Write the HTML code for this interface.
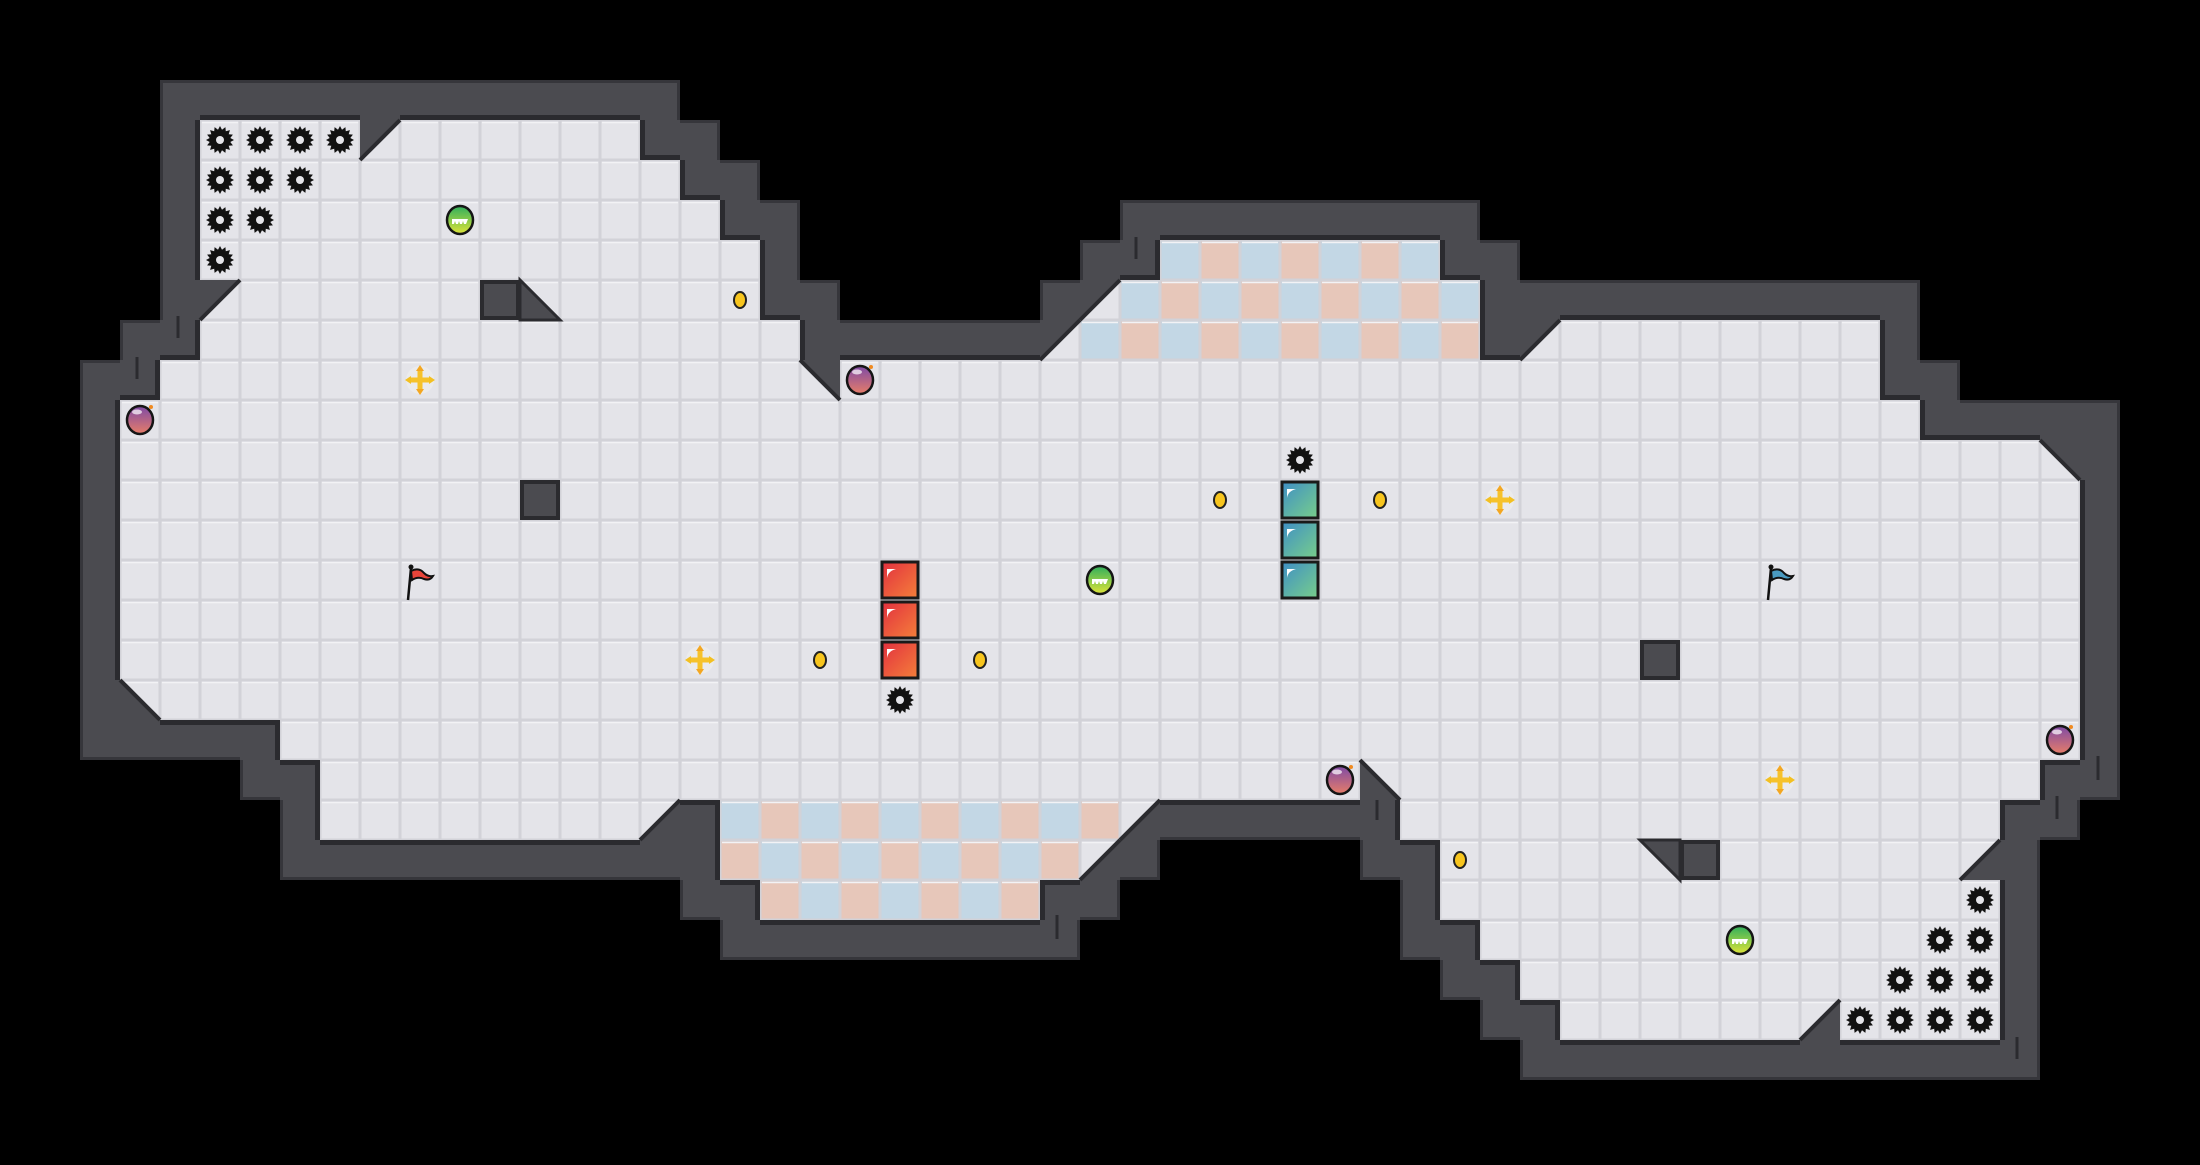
<!DOCTYPE html>
<html><head><meta charset="utf-8">
<style>html,body{margin:0;padding:0;background:#000;}#c{display:block}</style>
</head><body>
<div id="c"></div>
<script>
const C=40,W=2200,H=1160;
const F={};
function add(r,a,b){for(let c=a;c<=b;c++)F[r+','+c]=1;}
add(3,5,15);add(4,5,16);add(5,5,17);add(6,5,18);add(6,29,35);
add(7,5,18);add(7,27,36);add(8,5,19);add(8,26,36);add(8,38,46);
add(9,4,46);add(10,3,47);
for(let r=11;r<=17;r++)add(r,3,51);
add(18,7,51);add(19,8,50);
add(20,8,16);add(20,18,28);add(20,35,49);
add(21,18,27);add(21,36,49);add(22,19,25);add(22,36,49);
add(23,37,49);add(24,38,49);add(25,39,49);
const S={'3,9':'UL','7,5':'UL','7,27':'UL','8,26':'UL','8,38':'UL','9,20':'UR','11,51':'UR','17,3':'LL','19,34':'LL','20,16':'LR','20,28':'LR','21,27':'LR','21,49':'LR','25,45':'LR'};
const EX={'6,26':1,'7,25':1,'22,28':1,'21,29':1};
const Wl={};
for(const k in F){const [r,c]=k.split(',').map(Number);
 for(let dr=-1;dr<=1;dr++)for(let dc=-1;dc<=1;dc++){const kk=(r+dr)+','+(c+dc);if(!F[kk]&&!EX[kk])Wl[kk]=1;}}
function color(r,c){
 if(r>=6&&r<=8&&c>=27&&c<=36&&!S[r+','+c])return ((r+c)%2)?'#c3d7e5':'#e7c7ba';
 if(r>=20&&r<=22&&c>=18&&c<=27&&!S[r+','+c])return ((r+c)%2)?'#e7c7ba':'#c3d7e5';
 return '#e4e4e9';
}
function tri(x,y,t){const a=[x,y],b=[x+C,y],d=[x,y+C],e=[x+C,y+C];
 const m={UL:[a,b,d],UR:[a,b,e],LL:[a,d,e],LR:[b,d,e]}[t];return m.map(p=>p.join(',')).join(' ');}
function diag(x,y,t){if(t=='UL'||t=='LR')return [x+C,y,x,y+C];return [x,y,x+C,y+C];}
let s=`<svg xmlns="http://www.w3.org/2000/svg" width="${W}" height="${H}" viewBox="0 0 ${W} ${H}">
<defs>
<linearGradient id="gb" x1="0" y1="0" x2="0" y2="1"><stop offset="0" stop-color="#7e4aa6"/><stop offset="1" stop-color="#e77d68"/></linearGradient>
<linearGradient id="gg" x1="0" y1="0" x2="0" y2="1"><stop offset="0" stop-color="#2fae5c"/><stop offset="1" stop-color="#dfe53a"/></linearGradient>
<linearGradient id="gr" x1="0" y1="0" x2="1" y2="1"><stop offset="0" stop-color="#e2303f"/><stop offset="1" stop-color="#f5803a"/></linearGradient>
<linearGradient id="gt" x1="0" y1="0" x2="1" y2="1"><stop offset="0" stop-color="#3f8fc6"/><stop offset="1" stop-color="#78cf8a"/></linearGradient>
</defs><rect width="${W}" height="${H}" fill="#000"/>`;
for(const k in Wl){const [r,c]=k.split(',').map(Number);s+=`<rect x="${c*C}" y="${r*C}" width="${C}" height="${C}" fill="#4b4b50"/>`;}
for(const k in Wl){const [r,c]=k.split(',').map(Number);const x=c*C,y=r*C;
 const n=[[r-1,c,x,y,C,3],[r+1,c,x,y+C-3,C,3],[r,c-1,x,y,3,C],[r,c+1,x+C-3,y,3,C]];
 for(const [rr,cc,a,b,w,h] of n){const kk=rr+','+cc;if(!Wl[kk]&&!F[kk])s+=`<rect x="${a}" y="${b}" width="${w}" height="${h}" fill="#36363b"/>`;}}
for(const k in F){const [r,c]=k.split(',').map(Number);const x=c*C,y=r*C;
 s+=`<rect x="${x}" y="${y}" width="${C}" height="${C}" fill="${color(r,c)}"/><rect x="${x+0.75}" y="${y+0.75}" width="${C-1.5}" height="${C-1.5}" fill="none" stroke="#d2d2d8" stroke-width="1.5"/><line x1="${x+2}" y1="${y+2.5}" x2="${x+C-2}" y2="${y+2.5}" stroke="#f2f2f5" stroke-width="1.5"/>`;}
for(const k in S){const [r,c]=k.split(',').map(Number);const x=c*C,y=r*C;const d=diag(x,y,S[k]);
 s+=`<polygon points="${tri(x,y,S[k])}" fill="#4b4b50"/><line x1="${d[0]}" y1="${d[1]}" x2="${d[2]}" y2="${d[3]}" stroke="#2b2b2f" stroke-width="4"/>`;}
const wallEdge={UL:['t','l'],UR:['t','r'],LL:['b','l'],LR:['b','r']};
for(const k in Wl){const [r,c]=k.split(',').map(Number);const x=c*C,y=r*C;
 const n=[[r-1,c,x,y,C,5,'b'],[r+1,c,x,y+C-5,C,5,'t'],[r,c-1,x,y,5,C,'r'],[r,c+1,x+C-5,y,5,C,'l']];
 for(const [rr,cc,a,b,w,h,side] of n){const kk=rr+','+cc;if(F[kk]){if(S[kk]&&wallEdge[S[kk]].includes(side))continue;
  s+=`<rect x="${a}" y="${b}" width="${w}" height="${h}" fill="#2b2b2f"/>`;}}}
[[178,316,338],[137,357,379],[1136,237,259],[1057,915,939],[1377,800,820],[2098,756,780],[2057,796,819],[2017,1037,1059]].forEach(t=>{s+=`<line x1="${t[0]}" y1="${t[1]}" x2="${t[0]}" y2="${t[2]}" stroke="#2b2b2f" stroke-width="3"/>`;});
[[7,12],[12,13],[16,41],[21,42]].forEach(([r,c])=>{s+=`<rect x="${c*C+2}" y="${r*C+2}" width="${C-4}" height="${C-4}" fill="#4b4b50" stroke="#2b2b2f" stroke-width="4"/>`;});
[[7,13,'LL'],[21,41,'UR']].forEach(([r,c,t])=>{s+=`<polygon points="${tri(c*C,r*C,t)}" fill="#4b4b50" stroke="#2b2b2f" stroke-width="3"/>`;});
const cx=c=>c*C+20,cy=r=>r*C+20;
function spike(c,r){const X=cx(c),Y=cy(r);let p=[];for(let i=0;i<32;i++){const a=i*Math.PI/16,R=i%2?10.5:14;p.push((X+R*Math.cos(a)).toFixed(1)+','+(Y+R*Math.sin(a)).toFixed(1));}
 s+=`<polygon points="${p.join(' ')}" fill="#111"/><circle cx="${X}" cy="${Y}" r="4" fill="#e4e4e9"/>`;}
function bomb(c,r){const X=cx(c),Y=cy(r);s+=`<ellipse cx="${X}" cy="${Y}" rx="13" ry="14" fill="url(#gb)" stroke="#151515" stroke-width="2.5"/><ellipse cx="${X-3}" cy="${Y-8}" rx="5" ry="2.5" fill="#fff" opacity=".7"/><circle cx="${X+11}" cy="${Y-13}" r="2" fill="#f08a20"/>`;}
function orb(c,r){const X=cx(c),Y=cy(r);s+=`<ellipse cx="${X}" cy="${Y}" rx="13" ry="14" fill="url(#gg)" stroke="#151515" stroke-width="2.5"/><path d="M${X-8} ${Y-1}h16l-2 5h-2l-1-3-1 3h-2l-1-3-1 3h-2l-1-3-1 3h-2z" fill="#fff"/>`;}
function coin(c,r){s+=`<ellipse cx="${cx(c)}" cy="${cy(r)}" rx="6" ry="8" fill="#f7c51e" stroke="#222" stroke-width="2"/>`;}
function star(c,r){const X=cx(c),Y=cy(r);s+=`<circle cx="${X}" cy="${Y}" r="14" fill="#ececec" opacity=".8"/><rect x="${X-2.5}" y="${Y-11}" width="5" height="22" fill="#f6c22a"/><rect x="${X-11}" y="${Y-2.5}" width="22" height="5" fill="#f6c22a"/><polygon points="${X},${Y-15} ${X-4},${Y-9} ${X+4},${Y-9}" fill="#f3a722"/><polygon points="${X},${Y+15} ${X-4},${Y+9} ${X+4},${Y+9}" fill="#f3a722"/><polygon points="${X-15},${Y} ${X-9},${Y-4} ${X-9},${Y+4}" fill="#f3c022"/><polygon points="${X+15},${Y} ${X+9},${Y-4} ${X+9},${Y+4}" fill="#f3c022"/>`;}
function block(c,r,g){const x=c*C,y=r*C;s+=`<rect x="${x+2}" y="${y+2}" width="36" height="36" fill="url(#${g})" stroke="#1a1a1a" stroke-width="3"/><path d="M${x+7} ${y+18} v-9 h9 q-8 2 -9 9z" fill="#fff"/>`;}
function flag(c,r,col){const X=cx(c),Y=cy(r);s+=`<line x1="${X-12}" y1="${Y+20}" x2="${X-9}" y2="${Y-12}" stroke="#111" stroke-width="2.5"/><circle cx="${X-9}" cy="${Y-13}" r="2.5" fill="#111"/><path d="M${X-9} ${Y-9} q8 -4 13 2 q4 4 9 3 q-3 5 -9 3 q-6 -3 -12 1z" fill="${col}" stroke="#111" stroke-width="2"/>`;}
[[5,3],[6,3],[7,3],[8,3],[5,4],[6,4],[7,4],[5,5],[6,5],[5,6],[32,11],[22,17],[49,22],[48,23],[49,23],[47,24],[48,24],[49,24],[46,25],[47,25],[48,25],[49,25]].forEach(([c,r])=>spike(c,r));
[[3,10],[21,9],[51,18],[33,19]].forEach(([c,r])=>bomb(c,r));
[[11,5],[27,14],[43,23]].forEach(([c,r])=>orb(c,r));
[[18,7],[30,12],[34,12],[20,16],[24,16],[36,21]].forEach(([c,r])=>coin(c,r));
[[10,9],[37,12],[17,16],[44,19]].forEach(([c,r])=>star(c,r));
[12,13,14].forEach(r=>block(32,r,'gt'));
[14,15,16].forEach(r=>block(22,r,'gr'));
flag(10,14,'#e8453a');flag(44,14,'#4a9ac0');
s+='</svg>';
document.getElementById('c').innerHTML=s;
</script>
</body></html>
